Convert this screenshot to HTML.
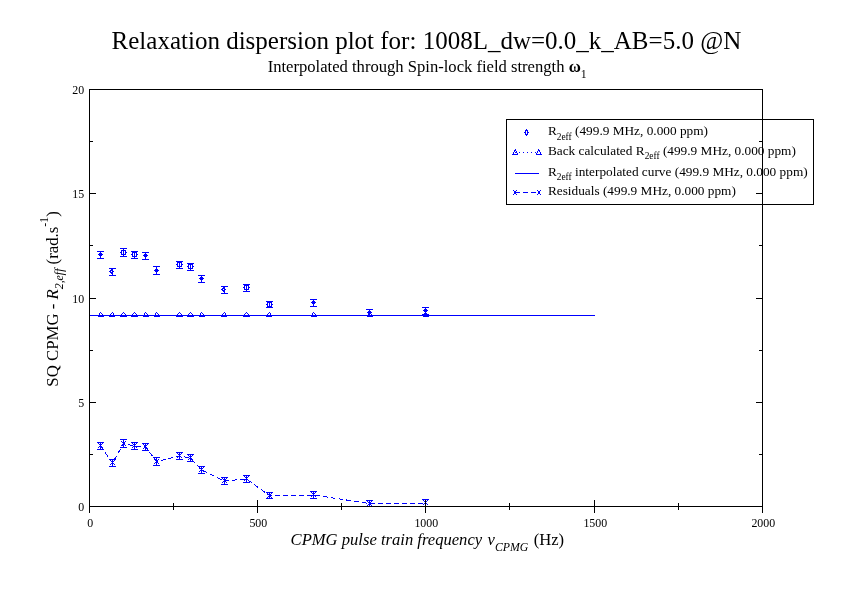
<!DOCTYPE html>
<html>
<head>
<meta charset="utf-8">
<title>Relaxation dispersion plot</title>
<style>
html,body{margin:0;padding:0;background:#fff;}
body{width:842px;height:595px;overflow:hidden;}
svg{display:block;font-family:"Liberation Serif",serif;will-change:transform;}
text{filter:grayscale(1);}
</style>
</head>
<body>
<svg width="842" height="595" viewBox="0 0 842 595">
<defs><clipPath id="fc"><rect x="89" y="89" width="674" height="418"/></clipPath></defs>
<rect x="0" y="0" width="842" height="595" fill="#fff"/>
<!-- data -->
<g clip-path="url(#fc)">
<g stroke="#0000ff" stroke-width="1" fill="none" shape-rendering="crispEdges">
<line x1="89.5" y1="315.5" x2="595" y2="315.5"/>
</g>
<path fill="#0000ff" shape-rendering="crispEdges" d="M100 312h1v1h-1zM99 313h1v1h-1zM101 313h1v1h-1zM99 314h1v1h-1zM102 314h1v1h-1zM98 316h6v1h-6zM112 312h1v1h-1zM111 313h1v1h-1zM113 313h1v1h-1zM110 314h1v1h-1zM113 314h1v1h-1zM109 316h6v1h-6zM123 312h1v1h-1zM122 313h1v1h-1zM124 313h1v1h-1zM121 314h1v1h-1zM125 314h1v1h-1zM120 316h7v1h-7zM134 312h1v1h-1zM133 313h1v1h-1zM135 313h1v1h-1zM132 314h1v1h-1zM136 314h1v1h-1zM131 316h7v1h-7zM145 312h1v1h-1zM144 313h1v1h-1zM146 313h1v1h-1zM144 314h1v1h-1zM147 314h1v1h-1zM143 316h6v1h-6zM156 312h1v1h-1zM155 313h1v1h-1zM157 313h1v1h-1zM155 314h1v1h-1zM158 314h1v1h-1zM154 316h6v1h-6zM179 312h1v1h-1zM178 313h1v1h-1zM180 313h1v1h-1zM177 314h1v1h-1zM181 314h1v1h-1zM176 316h7v1h-7zM190 312h1v1h-1zM189 313h1v1h-1zM191 313h1v1h-1zM188 314h1v1h-1zM192 314h1v1h-1zM187 316h7v1h-7zM201 312h1v1h-1zM200 313h1v1h-1zM202 313h1v1h-1zM200 314h1v1h-1zM203 314h1v1h-1zM199 316h6v1h-6zM224 312h1v1h-1zM223 313h1v1h-1zM225 313h1v1h-1zM222 314h1v1h-1zM225 314h1v1h-1zM221 316h6v1h-6zM246 312h1v1h-1zM245 313h1v1h-1zM247 313h1v1h-1zM244 314h1v1h-1zM248 314h1v1h-1zM243 316h7v1h-7zM269 312h1v1h-1zM268 313h1v1h-1zM270 313h1v1h-1zM267 314h1v1h-1zM270 314h1v1h-1zM266 316h6v1h-6zM313 312h1v1h-1zM312 313h1v1h-1zM314 313h1v1h-1zM312 314h1v1h-1zM315 314h1v1h-1zM311 316h6v1h-6zM369 312h1v1h-1zM368 313h1v1h-1zM370 313h1v1h-1zM368 314h1v1h-1zM371 314h1v1h-1zM367 316h6v1h-6zM425 312h1v1h-1zM424 313h1v1h-1zM426 313h1v1h-1zM424 314h1v1h-1zM427 314h1v1h-1zM423 316h6v1h-6z"/>
<g stroke="#0000ff" stroke-width="1" fill="none" shape-rendering="crispEdges">
<path d="M100.5 251.0V259.0M97.0 251.5H104.0M97.0 258.5H104.0M112.5 268.0V276.0M109.0 268.5H116.0M109.0 275.5H116.0M123.5 248.0V257.0M120.0 248.5H127.0M120.0 256.5H127.0M134.5 251.0V259.0M131.0 251.5H138.0M131.0 258.5H138.0M145.5 252.0V260.0M142.0 252.5H149.0M142.0 259.5H149.0M156.5 266.0V275.0M153.0 266.5H160.0M153.0 274.5H160.0M179.5 261.0V269.0M176.0 261.5H183.0M176.0 268.5H183.0M190.5 263.0V271.0M187.0 263.5H194.0M187.0 270.5H194.0M201.5 275.0V283.0M198.0 275.5H205.0M198.0 282.5H205.0M224.5 286.0V294.0M221.0 286.5H228.0M221.0 293.5H228.0M246.5 284.0V292.0M243.0 284.5H250.0M243.0 291.5H250.0M269.5 301.0V308.0M266.0 301.5H273.0M266.0 307.5H273.0M313.5 299.0V307.0M310.0 299.5H317.0M310.0 306.5H317.0M369.5 309.0V316.0M366.0 309.5H373.0M366.0 315.5H373.0M425.5 307.0V315.0M422.0 307.5H429.0M422.0 314.5H429.0"/>
</g>
<path fill="#0000ff" shape-rendering="crispEdges" d="M99 253h3v1h-3zM98 254h5v1h-5zM99 255h3v1h-3zM111 269h1v1h-1zM110 270h1v1h-1zM109 271h1v1h-1zM110 271h1v1h-1zM113 271h1v1h-1zM110 272h1v1h-1zM111 273h1v1h-1zM111 270h1v1h-1zM111 272h1v1h-1zM121 250h5v1h-5zM121 254h5v1h-5zM120 252h2v1h-2zM125 252h2v1h-2zM121 251h1v3h-1zM125 251h1v3h-1zM132 252h5v1h-5zM132 256h5v1h-5zM131 254h2v1h-2zM136 254h2v1h-2zM132 253h1v3h-1zM136 253h1v3h-1zM144 254h3v1h-3zM143 255h5v1h-5zM144 256h3v1h-3zM155 269h3v1h-3zM154 270h5v1h-5zM155 271h3v1h-3zM177 262h5v1h-5zM177 266h5v1h-5zM176 264h2v1h-2zM181 264h2v1h-2zM177 263h1v3h-1zM181 263h1v3h-1zM188 264h5v1h-5zM188 268h5v1h-5zM187 266h2v1h-2zM192 266h2v1h-2zM188 265h1v3h-1zM192 265h1v3h-1zM200 277h3v1h-3zM199 278h5v1h-5zM200 279h3v1h-3zM223 287h1v1h-1zM222 288h1v1h-1zM221 289h1v1h-1zM222 289h1v1h-1zM225 289h1v1h-1zM222 290h1v1h-1zM223 291h1v1h-1zM223 288h1v1h-1zM223 290h1v1h-1zM244 285h5v1h-5zM244 289h5v1h-5zM243 287h2v1h-2zM248 287h2v1h-2zM244 286h1v3h-1zM248 286h1v3h-1zM267 302h5v1h-5zM267 306h5v1h-5zM266 304h2v1h-2zM271 304h2v1h-2zM267 303h1v3h-1zM271 303h1v3h-1zM312 301h3v1h-3zM311 302h5v1h-5zM312 303h3v1h-3zM368 311h3v1h-3zM367 312h5v1h-5zM368 313h3v1h-3zM424 309h3v1h-3zM423 310h5v1h-5zM424 311h3v1h-3z"/>
<polyline points="100.5,446.0 112.5,463.0 123.5,443.5 134.5,446.0 145.5,447.0 156.5,461.5 179.5,456.0 190.5,458.0 201.5,470.0 224.5,481.0 246.5,479.0 269.5,495.5 313.5,495.0 369.5,503.5 425.5,503.0" stroke="#0000ff" stroke-width="1" fill="none" stroke-dasharray="5 3" shape-rendering="crispEdges"/>
<g stroke="#0000ff" stroke-width="1" fill="none" shape-rendering="crispEdges">
<path d="M100.5 442.0V450.0M97.0 442.5H104.0M97.0 449.5H104.0M112.5 459.0V467.0M109.0 459.5H116.0M109.0 466.5H116.0M123.5 439.0V448.0M120.0 439.5H127.0M120.0 447.5H127.0M134.5 442.0V450.0M131.0 442.5H138.0M131.0 449.5H138.0M145.5 443.0V451.0M142.0 443.5H149.0M142.0 450.5H149.0M156.5 457.0V466.0M153.0 457.5H160.0M153.0 465.5H160.0M179.5 452.0V460.0M176.0 452.5H183.0M176.0 459.5H183.0M190.5 454.0V462.0M187.0 454.5H194.0M187.0 461.5H194.0M201.5 466.0V474.0M198.0 466.5H205.0M198.0 473.5H205.0M224.5 477.0V485.0M221.0 477.5H228.0M221.0 484.5H228.0M246.5 475.0V483.0M243.0 475.5H250.0M243.0 482.5H250.0M269.5 492.0V499.0M266.0 492.5H273.0M266.0 498.5H273.0M313.5 491.0V499.0M310.0 491.5H317.0M310.0 498.5H317.0M369.5 500.0V507.0M366.0 500.5H373.0M366.0 506.5H373.0M425.5 499.0V507.0M422.0 499.5H429.0M422.0 506.5H429.0"/>
</g>
<path fill="#0000ff" shape-rendering="crispEdges" d="M98 443h1v1h-1zM99 444h1v1h-1zM100 445h1v1h-1zM101 446h1v1h-1zM102 447h1v1h-1zM98 447h1v1h-1zM99 446h1v1h-1zM100 445h1v1h-1zM101 444h1v1h-1zM102 443h1v1h-1zM110 460h1v1h-1zM111 461h1v1h-1zM112 462h1v1h-1zM113 463h1v1h-1zM114 464h1v1h-1zM110 464h1v1h-1zM111 463h1v1h-1zM112 462h1v1h-1zM113 461h1v1h-1zM114 460h1v1h-1zM121 441h1v1h-1zM122 442h1v1h-1zM123 443h1v1h-1zM124 444h1v1h-1zM125 445h1v1h-1zM121 445h1v1h-1zM122 444h1v1h-1zM123 443h1v1h-1zM124 442h1v1h-1zM125 441h1v1h-1zM132 443h1v1h-1zM133 444h1v1h-1zM134 445h1v1h-1zM135 446h1v1h-1zM136 447h1v1h-1zM132 447h1v1h-1zM133 446h1v1h-1zM134 445h1v1h-1zM135 444h1v1h-1zM136 443h1v1h-1zM143 444h1v1h-1zM144 445h1v1h-1zM145 446h1v1h-1zM146 447h1v1h-1zM147 448h1v1h-1zM143 448h1v1h-1zM144 447h1v1h-1zM145 446h1v1h-1zM146 445h1v1h-1zM147 444h1v1h-1zM154 459h1v1h-1zM155 460h1v1h-1zM156 461h1v1h-1zM157 462h1v1h-1zM158 463h1v1h-1zM154 463h1v1h-1zM155 462h1v1h-1zM156 461h1v1h-1zM157 460h1v1h-1zM158 459h1v1h-1zM177 453h1v1h-1zM178 454h1v1h-1zM179 455h1v1h-1zM180 456h1v1h-1zM181 457h1v1h-1zM177 457h1v1h-1zM178 456h1v1h-1zM179 455h1v1h-1zM180 454h1v1h-1zM181 453h1v1h-1zM188 455h1v1h-1zM189 456h1v1h-1zM190 457h1v1h-1zM191 458h1v1h-1zM192 459h1v1h-1zM188 459h1v1h-1zM189 458h1v1h-1zM190 457h1v1h-1zM191 456h1v1h-1zM192 455h1v1h-1zM199 467h1v1h-1zM200 468h1v1h-1zM201 469h1v1h-1zM202 470h1v1h-1zM203 471h1v1h-1zM199 471h1v1h-1zM200 470h1v1h-1zM201 469h1v1h-1zM202 468h1v1h-1zM203 467h1v1h-1zM222 478h1v1h-1zM223 479h1v1h-1zM224 480h1v1h-1zM225 481h1v1h-1zM226 482h1v1h-1zM222 482h1v1h-1zM223 481h1v1h-1zM224 480h1v1h-1zM225 479h1v1h-1zM226 478h1v1h-1zM244 476h1v1h-1zM245 477h1v1h-1zM246 478h1v1h-1zM247 479h1v1h-1zM248 480h1v1h-1zM244 480h1v1h-1zM245 479h1v1h-1zM246 478h1v1h-1zM247 477h1v1h-1zM248 476h1v1h-1zM267 493h1v1h-1zM268 494h1v1h-1zM269 495h1v1h-1zM270 496h1v1h-1zM271 497h1v1h-1zM267 497h1v1h-1zM268 496h1v1h-1zM269 495h1v1h-1zM270 494h1v1h-1zM271 493h1v1h-1zM311 492h1v1h-1zM312 493h1v1h-1zM313 494h1v1h-1zM314 495h1v1h-1zM315 496h1v1h-1zM311 496h1v1h-1zM312 495h1v1h-1zM313 494h1v1h-1zM314 493h1v1h-1zM315 492h1v1h-1zM367 501h1v1h-1zM368 502h1v1h-1zM369 503h1v1h-1zM370 504h1v1h-1zM371 505h1v1h-1zM367 505h1v1h-1zM368 504h1v1h-1zM369 503h1v1h-1zM370 502h1v1h-1zM371 501h1v1h-1zM423 500h1v1h-1zM424 501h1v1h-1zM425 502h1v1h-1zM426 503h1v1h-1zM427 504h1v1h-1zM423 504h1v1h-1zM424 503h1v1h-1zM425 502h1v1h-1zM426 501h1v1h-1zM427 500h1v1h-1z"/>
</g>
<!-- frame, ticks, legend box -->
<g stroke="#000" stroke-width="1" fill="none" shape-rendering="crispEdges">
<rect x="89.5" y="89.5" width="673" height="417"/>
<path d="M89.5 500V513M173.5 503V510M257.5 500V513M341.5 503V510M425.5 500V513M509.5 503V510M594.5 500V513M678.5 503V510M762.5 500V513M89 506.5H96M763 506.5H756M89 454.5H93M763 454.5H759M89 402.5H96M763 402.5H756M89 350.5H93M763 350.5H759M89 298.5H96M763 298.5H756M89 245.5H93M763 245.5H759M89 193.5H96M763 193.5H756M89 141.5H93M763 141.5H759M89 89.5H96M763 89.5H756"/>
<rect x="506.5" y="119.5" width="307" height="85"/>
</g>
<!-- tick labels -->
<g font-size="11.9" fill="#000">
<text x="90.3" y="526.7" text-anchor="middle">0</text>
<text x="258.3" y="526.7" text-anchor="middle">500</text>
<text x="426.3" y="526.7" text-anchor="middle">1000</text>
<text x="595.3" y="526.7" text-anchor="middle">1500</text>
<text x="763.3" y="526.7" text-anchor="middle">2000</text>
<text x="84.2" y="511.1" text-anchor="end">0</text>
<text x="84.2" y="407.1" text-anchor="end">5</text>
<text x="84.2" y="303.1" text-anchor="end">10</text>
<text x="84.2" y="198.1" text-anchor="end">15</text>
<text x="84.2" y="94.1" text-anchor="end">20</text>
</g>
<!-- legend -->
<g stroke="#0000ff" stroke-width="1" fill="none" shape-rendering="crispEdges">
<line x1="515" y1="152.5" x2="539" y2="152.5" stroke-dasharray="1 3"/>
<line x1="515" y1="173.5" x2="539" y2="173.5"/>
<line x1="515" y1="192.5" x2="539" y2="192.5" stroke-dasharray="5 3"/>
</g>
<path fill="#0000ff" shape-rendering="crispEdges" d="M526 129h1v1h-1zM525 130h1v1h-1zM526 130h1v1h-1zM527 130h1v1h-1zM525 131h1v1h-1zM527 131h1v1h-1zM524 132h1v1h-1zM525 132h1v1h-1zM527 132h1v1h-1zM528 132h1v1h-1zM525 133h1v1h-1zM527 133h1v1h-1zM525 134h1v1h-1zM526 134h1v1h-1zM527 134h1v1h-1zM526 135h1v1h-1zM515 149h1v1h-1zM514 150h1v1h-1zM515 150h1v1h-1zM514 151h1v1h-1zM516 151h1v1h-1zM513 152h1v1h-1zM516 152h1v1h-1zM513 153h1v1h-1zM517 153h1v1h-1zM512 154h1v1h-1zM513 154h1v1h-1zM514 154h1v1h-1zM515 154h1v1h-1zM516 154h1v1h-1zM517 154h1v1h-1zM538 149h1v1h-1zM538 150h1v1h-1zM539 150h1v1h-1zM537 151h1v1h-1zM539 151h1v1h-1zM537 152h1v1h-1zM540 152h1v1h-1zM536 153h1v1h-1zM540 153h1v1h-1zM536 154h1v1h-1zM537 154h1v1h-1zM538 154h1v1h-1zM539 154h1v1h-1zM540 154h1v1h-1zM541 154h1v1h-1zM513 190h1v1h-1zM516 190h1v1h-1zM513 194h1v1h-1zM516 194h1v1h-1zM514 191h1v1h-1zM514 192h1v1h-1zM514 193h1v1h-1zM515 191h1v1h-1zM515 192h1v1h-1zM515 193h1v1h-1zM537 190h1v1h-1zM540 190h1v1h-1zM537 194h1v1h-1zM540 194h1v1h-1zM538 191h1v1h-1zM538 192h1v1h-1zM538 193h1v1h-1zM539 191h1v1h-1zM539 192h1v1h-1zM539 193h1v1h-1z"/>
<g font-size="13.3" fill="#000">
<text x="547.9" y="135.3">R<tspan font-size="9.4" dy="4.2">2eff</tspan><tspan dy="-4.2"> (499.9 MHz, 0.000 ppm)</tspan></text>
<text x="547.9" y="154.9">Back calculated R<tspan font-size="9.4" dy="4.2">2eff</tspan><tspan dy="-4.2"> (499.9 MHz, 0.000 ppm)</tspan></text>
<text x="547.9" y="175.7">R<tspan font-size="9.4" dy="4.2">2eff</tspan><tspan dy="-4.2"> interpolated curve (499.9 MHz, 0.000 ppm)</tspan></text>
<text x="547.9" y="195.1">Residuals (499.9 MHz, 0.000 ppm)</text>
</g>
<!-- titles and axis labels -->
<text x="426.4" y="48.5" font-size="25" text-anchor="middle">Relaxation dispersion plot for: 1008L_dw=0.0_k_AB=5.0 @N</text>
<text x="267.7" y="71.9" font-size="16.6">Interpolated through Spin-lock field strength <tspan font-weight="bold">ω</tspan><tspan font-size="11.8" dy="5.7">1</tspan></text>
<text x="290.6" y="545" font-size="16.6" font-style="italic">CPMG pulse train frequency <tspan dx="1.2">ν</tspan><tspan font-size="11.8" dy="5.9">CPMG</tspan><tspan dy="-5.9" dx="1.2" font-style="normal"> (Hz)</tspan></text>
<text transform="translate(57.6 386.7) rotate(-90)" font-size="16.8">SQ CPMG - <tspan font-style="italic">R</tspan><tspan font-style="italic" font-size="11.8" dy="5.6">2,eff</tspan><tspan dy="-5.6"> (rad.s</tspan><tspan font-size="11.8" dy="-9.4">-1</tspan><tspan dy="9.4">)</tspan></text>
</svg>
</body>
</html>
